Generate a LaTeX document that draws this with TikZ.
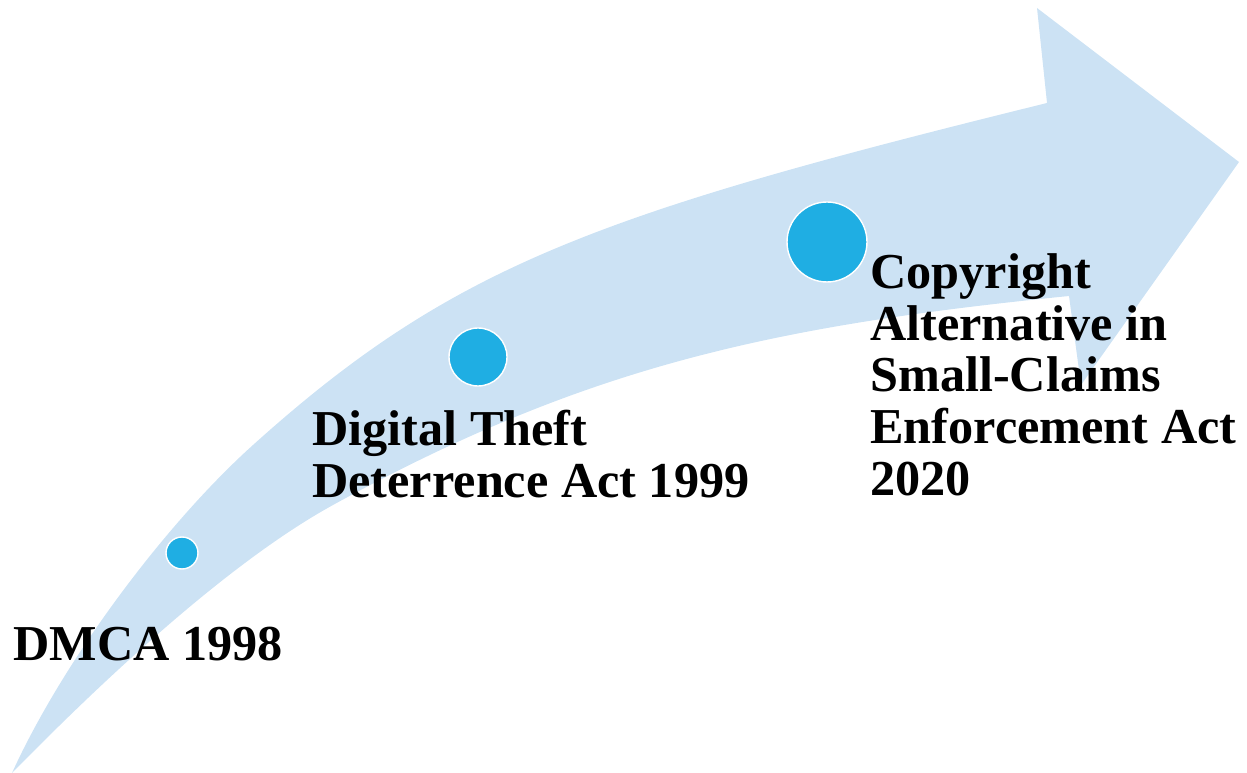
\documentclass[tikz,border=0pt]{standalone}
\usepackage{fontspec}
\setmainfont{Liberation Serif}
\usepackage{xcolor}
\definecolor{bandblue}{RGB}{204,226,244}
\definecolor{dotblue}{RGB}{31,174,227}

\begin{document}
\begin{tikzpicture}[x=0.02cm,y=-0.02cm,
  dot/.style={circle,fill=dotblue,draw=white,line width=0.8pt,inner sep=0pt},
  lbl/.style={anchor=base west,align=left,inner sep=0pt,
    font=\fontsize{28.6pt}{29.4pt}\selectfont\bfseries}]
\useasboundingbox (0,0) rectangle (1247,773);
% the big arrow
\fill [bandblue] (12,773) .. controls (62,663) and (163,526) .. (253,445)
  .. controls (453,265) and (597,214) .. (1047,103)
  -- (1037,8) -- (1239,162) -- (1081,385) -- (1069,296)
  .. controls (769,326) and (583,367.5) .. (333,505)
  .. controls (233,560) and (112,671) .. (12,773) -- cycle;
\node [dot,minimum size=0.64cm] (d1) at (182,553) {};
\node [dot,minimum size=1.16cm] (d2) at (478,357) {};
\node [dot,minimum size=1.6cm] (d3) at (827,242) {};
\node [lbl] (dmca) at (13,660) {DMCA 1998};
\node [lbl] (dtda) at (312,497) {Digital Theft\\Deterrence Act 1999};
\node [lbl] (case) at (870,495) {Copyright\\Alternative in\\Small-Claims\\Enforcement Act\\2020};
\end{tikzpicture}
\end{document}
